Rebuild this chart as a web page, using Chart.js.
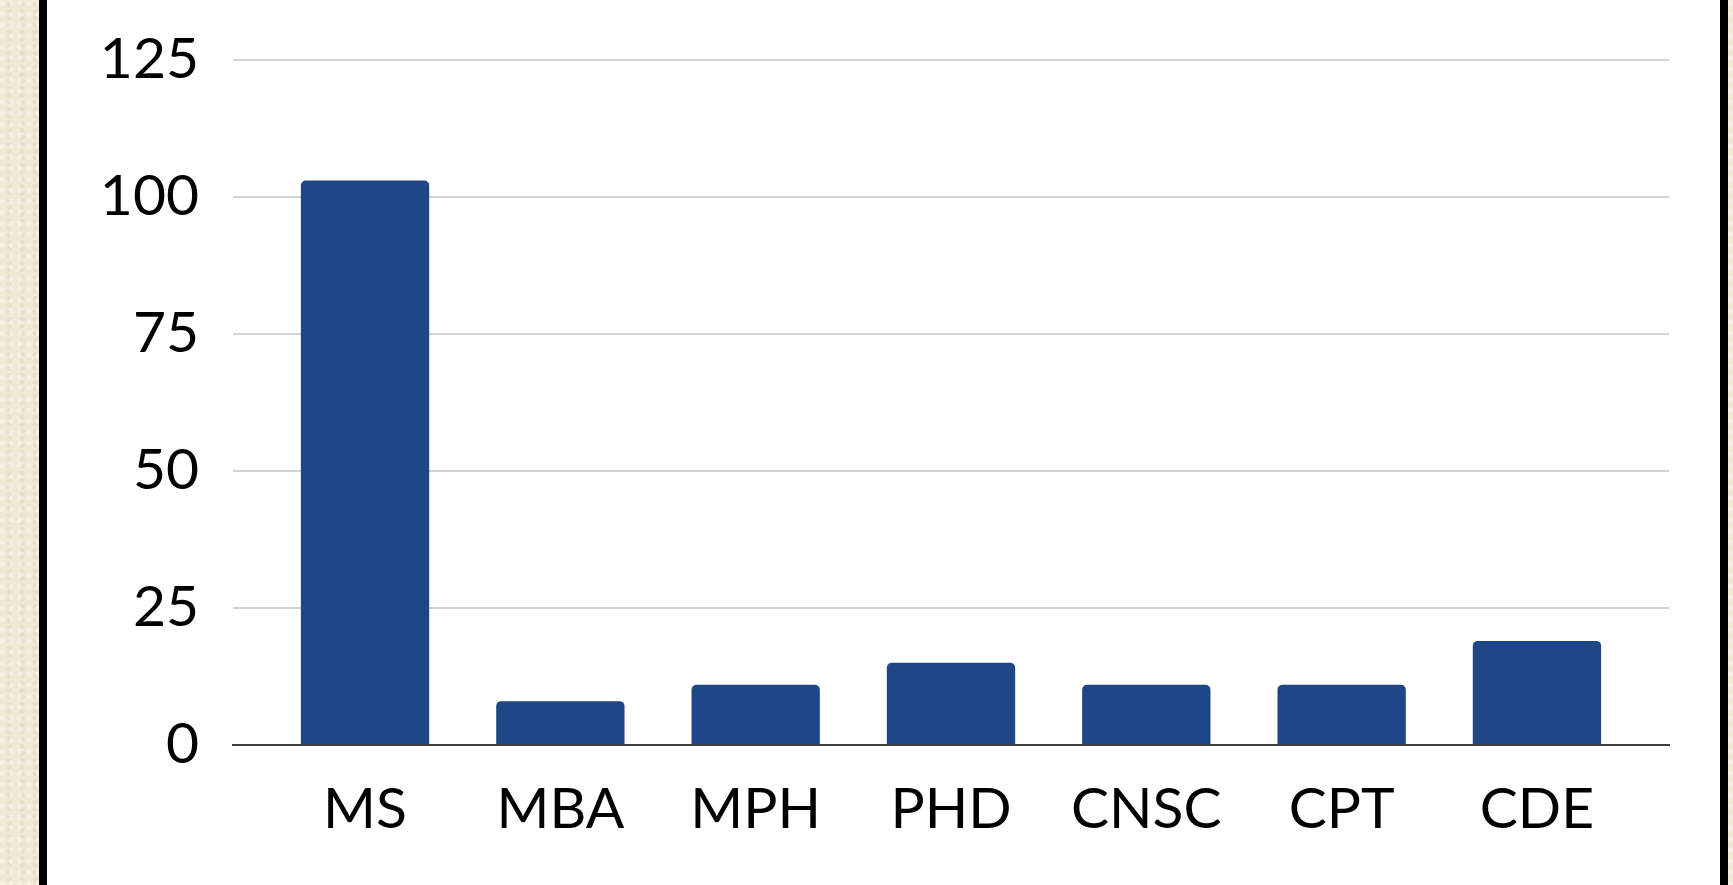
<!DOCTYPE html>
<html>
<head>
<meta charset="utf-8">
<script src="https://cdn.jsdelivr.net/npm/chart.js@4/dist/chart.umd.min.js"></script>
<style>
  html, body { margin: 0; padding: 0; width: 1733px; height: 885px; overflow: hidden; }
  body {
    background-color: #F2E8D6;
    background-image:
      radial-gradient(circle at 20% 30%, rgba(255,255,255,0.35) 0 2px, transparent 3px),
      radial-gradient(circle at 70% 60%, rgba(200,180,150,0.18) 0 2px, transparent 3px);
    background-size: 9px 11px, 13px 7px;
  }
  #frame {
    position: absolute; left: 39px; top: 0; width: 1673px; height: 885px;
    border-left: 8px solid #000; border-right: 8px solid #000;
    background: #fff;
  }
  #wrap { position: absolute; left: 0; top: 0; width: 1673px; height: 885px; }
</style>
</head>
<body>
<div id="frame"><div id="wrap"><canvas id="c"></canvas></div></div>
<script>
const categories = ["MS", "MBA", "MPH", "PHD", "CNSC", "CPT", "CDE"];
const counts = [103, 8, 11, 15, 11, 11, 19];
const yTicks = [0, 25, 50, 75, 100, 125];

const FONT = "Lato, 'Open Sans', sans-serif";
const points = counts.map((v, i) => ({ x: i, y: v }));

new Chart(document.getElementById("c"), {
  type: "bar",
  data: {
    datasets: [{
      data: points,
      backgroundColor: "#1F4687",
      borderWidth: 0,
      borderRadius: { topLeft: 5, topRight: 5, bottomLeft: 0, bottomRight: 0 },
      borderSkipped: "bottom",
      categoryPercentage: 0.657,
      barPercentage: 1.0
    }]
  },
  options: {
    responsive: true,
    maintainAspectRatio: false,
    animation: false,
    layout: { padding: { left: 0, right: 51, top: 60, bottom: 0 } },
    plugins: { legend: { display: false }, tooltip: { enabled: false } },
    scales: {
      x: {
        type: "linear",
        min: -0.676, max: 6.676,
        offset: false,
        afterBuildTicks: (s) => { s.ticks = categories.map((c, i) => ({ value: i })); },
        grid: { display: false, drawTicks: false },
        border: { display: true, color: "#404040", width: 2 },
        ticks: {
          color: "#000", font: { family: FONT, size: 57 }, padding: 30,
          autoSkip: false, maxRotation: 0,
          callback: (v) => categories[v]
        },
        afterFit: (s) => { s.height = 140; s.paddingLeft = 0; s.paddingRight = 0; }
      },
      y: {
        min: 0, max: 125,
        afterBuildTicks: (s) => { s.ticks = yTicks.map(v => ({ value: v })); },
        grid: {
          drawTicks: false,
          lineWidth: 2,
          color: (ctx) => ctx.tick && ctx.tick.value === 0 ? "#404040" : "#D4D4D4"
        },
        border: { display: false },
        ticks: { color: "#000", font: { family: FONT, size: 57 }, padding: 34 },
        afterFit: (s) => { s.width = 186; s.paddingTop = 0; s.paddingBottom = 0; }
      }
    }
  }
});
</script>
</body>
</html>
